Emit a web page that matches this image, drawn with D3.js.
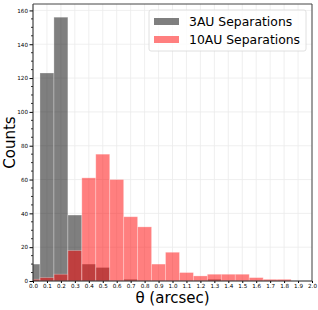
<!DOCTYPE html>
<html>
<head>
  <script type="text/javascript" src="https://d3js.org/d3.v7.min.js"></script>
  <style>
    body { margin: 0; background: #fff; }
    text { font-family: 'DejaVu Sans', sans-serif; }
  </style>
</head>
<body>
  <div id="container"></div>
  <script type="text/javascript">
    // bins are 0.1 wide, centred on 0.0, 0.1, ... (first one cut at 0)
    var binCentres = d3.range(0, 2.01, 0.1).map(v => +v.toFixed(1));
    var counts3AU = [10, 123, 156, 39, 10, 8, 0, 1, 0, 0, 0, 0, 0, 1, 0, 0, 0, 0, 0, 0, 0];
    var counts10AU = [1, 2, 4, 18, 61, 75, 60, 38, 32, 10, 17, 5, 3, 4, 4, 4, 2, 1, 1, 0, 0];
    var xTicks = d3.range(0, 2.01, 0.1).map(v => +v.toFixed(1));
    var yTicks = [0, 20, 40, 60, 80, 100, 120, 140, 160];
    var legendLabels = ['3AU Separations', '10AU Separations'];

    function drawGraph() {
      var width = 318, height = 310;
      var margin = {top: 4, right: 6, bottom: 29, left: 33};
      var w = width - margin.left - margin.right,
          h = height - margin.top - margin.bottom;

      var svg = d3.select('#container').append('svg')
        .attr('width', width).attr('height', height);
      var gp = svg.append('g').attr('transform', `translate(${margin.left},${margin.top})`);

      var x = d3.scaleLinear().domain([0, 2]).range([0, w]);
      var y = d3.scaleLinear().domain([0, 156 * 1.05]).range([h, 0]);

      // grid
      gp.append('g').selectAll('line').data(xTicks).enter().append('line')
        .attr('x1', d => x(d)).attr('x2', d => x(d))
        .attr('y1', 0).attr('y2', h)
        .attr('stroke', '#ebebeb').attr('stroke-width', 0.8);
      gp.append('g').selectAll('line').data(yTicks).enter().append('line')
        .attr('x1', 0).attr('x2', w)
        .attr('y1', d => y(d)).attr('y2', d => y(d))
        .attr('stroke', '#ebebeb').attr('stroke-width', 0.8);

      function bars(counts, colour) {
        gp.append('g').selectAll('rect').data(counts).enter().append('rect')
          .attr('x', (d, i) => x(Math.max(0, binCentres[i] - 0.05)))
          .attr('width', (d, i) => x(Math.min(2, binCentres[i] + 0.05)) - x(Math.max(0, binCentres[i] - 0.05)))
          .attr('y', d => y(d))
          .attr('height', d => y(0) - y(d))
          .attr('fill', colour).attr('fill-opacity', 0.5)
          .attr('stroke', d => d > 0 ? 'white' : 'none').attr('stroke-opacity', 0.35)
          .attr('stroke-width', 0.8);
      }
      bars(counts3AU, 'black');
      bars(counts10AU, 'red');

      // axes
      var xAxis = d3.axisBottom(x).tickValues(xTicks).tickFormat(d3.format('.1f'))
        .tickSize(2).tickPadding(1.5);
      var gx = gp.append('g').attr('transform', `translate(0,${h})`).call(xAxis);
      gx.selectAll('text').style('font-size', '5.6px').attr('fill', '#000');
      gx.select('.domain').remove();

      var yAxis = d3.axisLeft(y).tickValues(yTicks).tickSize(3.5).tickPadding(1.5);
      var gy = gp.append('g').call(yAxis);
      gy.selectAll('text').style('font-size', '5.6px').attr('fill', '#000');
      gy.select('.domain').remove();
      var yMinor = d3.range(0, 165, 5).filter(v => v % 20 != 0);
      gy.selectAll('.minor').data(yMinor).enter().append('line')
        .attr('x1', -2).attr('x2', 0)
        .attr('y1', d => y(d)).attr('y2', d => y(d))
        .attr('stroke', '#000').attr('stroke-width', 0.8);

      // frame
      gp.append('line').attr('x1', 0).attr('x2', 0).attr('y1', 0).attr('y2', h).attr('stroke', '#222');
      gp.append('line').attr('x1', 0).attr('x2', w).attr('y1', h).attr('y2', h).attr('stroke', '#222');
      gp.append('line').attr('x1', w).attr('x2', w).attr('y1', 0).attr('y2', h).attr('stroke', '#444');
      gp.append('line').attr('x1', 0).attr('x2', w).attr('y1', 0).attr('y2', 0).attr('stroke', '#444');

      // labels
      svg.append('text').attr('x', margin.left + w / 2).attr('y', 303)
        .attr('text-anchor', 'middle').style('font-size', '15px').text('θ (arcsec)');
      svg.append('text').attr('transform', `translate(15,${margin.top + h / 2}) rotate(-90)`)
        .attr('text-anchor', 'middle').style('font-size', '15px').text('Counts');

      // legend
      var lg = svg.append('g').attr('transform', 'translate(149,10)');
      lg.append('rect').attr('width', 157).attr('height', 41).attr('rx', 2)
        .attr('fill', 'white').attr('fill-opacity', 0.8)
        .attr('stroke', '#d8d8d8').attr('stroke-width', 0.8);
      var colours = ['black', 'red'];
      legendLabels.forEach(function (lab, i) {
        lg.append('rect').attr('x', 5).attr('y', 8 + i * 18).attr('width', 25).attr('height', 7)
          .attr('fill', colours[i]).attr('fill-opacity', 0.5);
        lg.append('text').attr('x', 40).attr('y', 16 + i * 18)
          .style('font-size', '12.4px').text(lab);
      });
    }

    drawGraph();
  </script>
</body>
</html>
